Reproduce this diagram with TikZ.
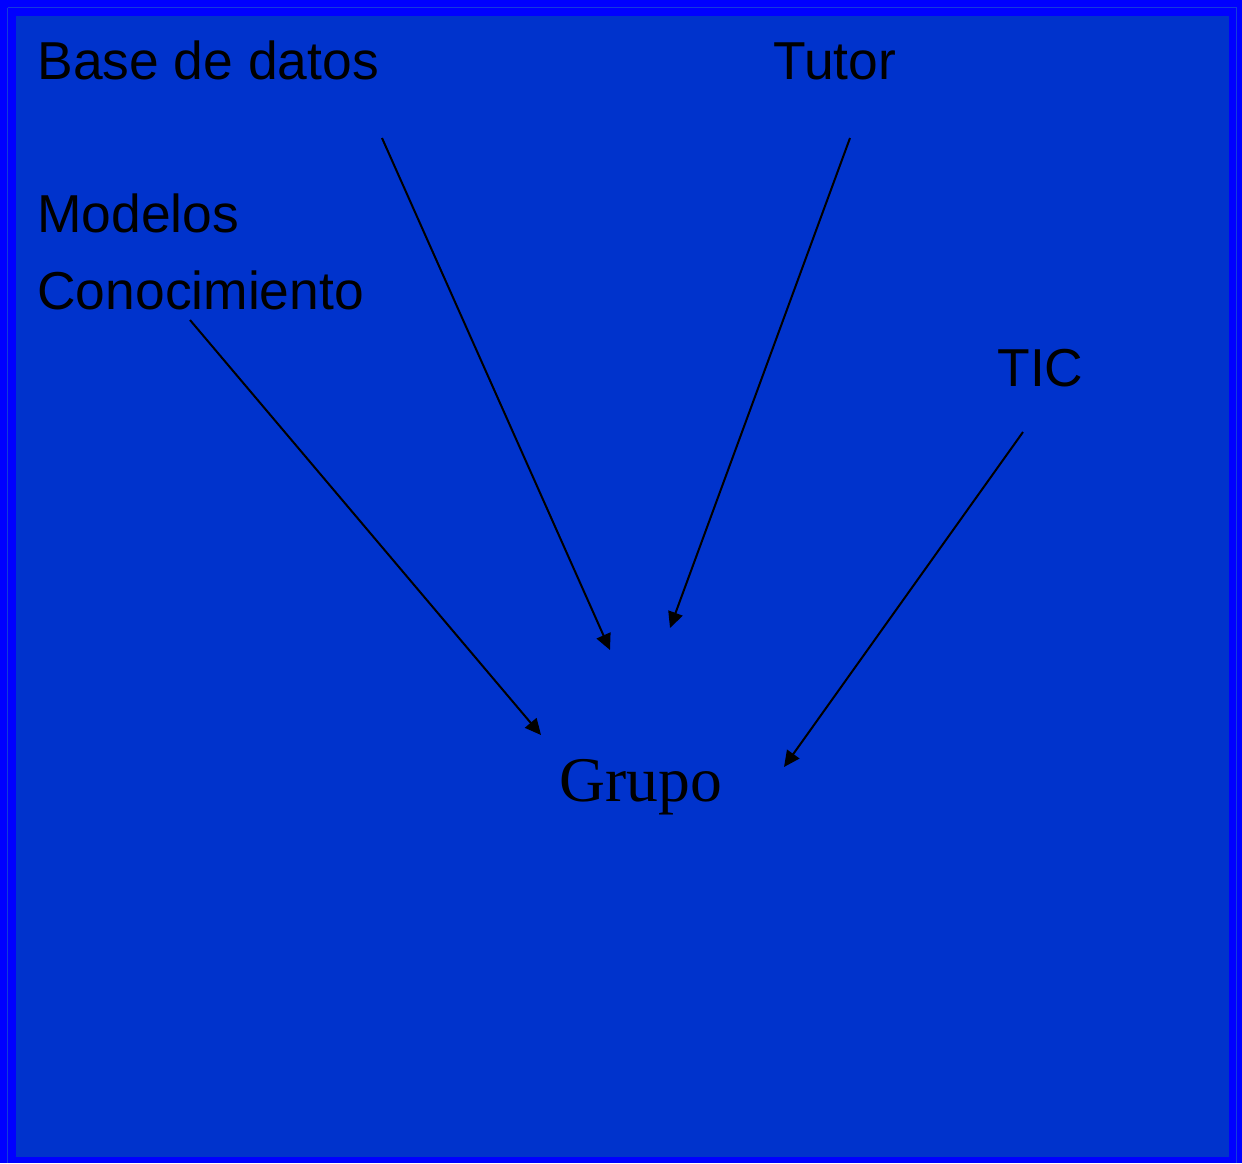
\documentclass[tikz,border=0pt]{standalone}
\usepackage{fontspec}
\usetikzlibrary{arrows.meta}
\setmainfont{Liberation Sans}
\newfontfamily\serifgrupo{Liberation Serif}
\definecolor{slideblue}{RGB}{0,51,204}
\definecolor{frameblue}{RGB}{0,0,255}
\definecolor{lineblue}{RGB}{20,60,220}
\begin{document}
\begin{tikzpicture}[x=0.5pt, y=-0.5pt, -{Triangle[length=8pt,width=7.5pt]}]
  \tikzstyle{label}=[anchor=base west, inner sep=0pt, font=\fontsize{26.7}{30}\selectfont]
  \tikzstyle{centre}=[anchor=base west, inner sep=0pt, font=\serifgrupo\fontsize{31.8}{36}\selectfont]
  \tikzstyle{pfeil}=[draw=black, line width=1pt]

  \useasboundingbox (0, 0) rectangle (1242, 1163);
  \fill [frameblue] (0, 0) rectangle (1242, 1163);
  \draw [-, lineblue, line width=0.75pt] (7.5, 7.5) -- (1236.5, 7.5) -- (1236.5, 1163)
        (7.5, 7.5) -- (7.5, 1163);
  \fill [slideblue] (16, 16) rectangle (1229, 1157);

  \node[label] (base)  at (37, 79)  {Base de datos};
  \node[label] (tutor) at (773, 79) {Tutor};
  \node[label] (mod)   at (37, 232) {Modelos};
  \node[label] (con)   at (37, 309) {Conocimiento};
  \node[label] (tic)   at (997, 386) {TIC};
  \node[centre] (grupo) at (559, 801) {Grupo};

  \coordinate (b0) at (382, 138);
  \coordinate (b1) at (610, 650);
  \coordinate (t0) at (850, 138);
  \coordinate (t1) at (670, 628);
  \coordinate (c0) at (190, 320);
  \coordinate (c1) at (541, 735);
  \coordinate (i0) at (1023, 432);
  \coordinate (i1) at (784, 767);

  \draw[pfeil] (b0) -- (b1);
  \draw[pfeil] (t0) -- (t1);
  \draw[pfeil] (c0) -- (c1);
  \draw[pfeil] (i0) -- (i1);
\end{tikzpicture}
\end{document}
